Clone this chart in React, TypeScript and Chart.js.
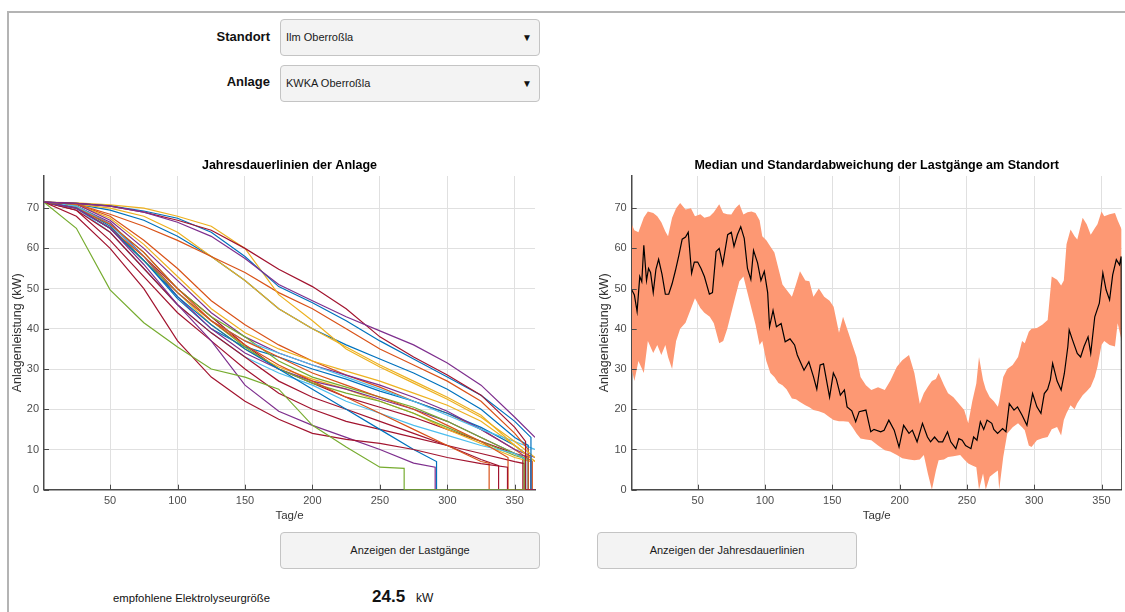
import React, { useEffect, useRef } from 'react';
import { Chart, registerables } from 'chart.js';

Chart.register(...registerables);

const FONT = '"Liberation Sans", Arial, Helvetica, sans-serif';
const GRID = '#e0e0e0';
const AXIS = '#4a4a4a';
const TICK = '#4d4d4d';

const X_TICKS = [50, 100, 150, 200, 250, 300, 350];
const Y_TICKS = [0, 10, 20, 30, 40, 50, 60, 70];

// ---------- left chart: annual load duration curves ----------
const DAYS = [1, 25, 50, 75, 100, 125, 150, 175, 200, 225, 250, 275, 300, 325, 350, 365];

const BLUE = '#0072BD';
const ORANGE = '#D95319';
const YELLOW = '#EDB120';
const PURPLE = '#7E2F8E';
const GREEN = '#77AC30';
const LBLUE = '#4DBEEE';
const RED = '#A2142F';

const LINE_COLORS = [
  PURPLE, RED, BLUE, YELLOW, ORANGE, YELLOW, BLUE, GREEN, RED, PURPLE, BLUE, ORANGE, RED,
  ORANGE, LBLUE, LBLUE, GREEN, GREEN, PURPLE, PURPLE, YELLOW, YELLOW, BLUE, RED, RED, ORANGE,
];

const LINES: number[][] = [
  [71.5, 71.2, 70.5, 69, 66.5, 63, 57.5, 51, 47, 43, 39.5, 36, 31.5, 26, 18, 13],
  [71.5, 71.2, 70.5, 69, 67, 64.5, 60, 54.8, 50.5, 45, 38, 33, 28.5, 23.5, 15.5],
  [71.5, 71.2, 70.6, 69.3, 67.5, 64, 58, 50.5, 46.5, 42, 37, 32.5, 28, 23.5, 17],
  [71.5, 71.3, 70.8, 70, 68, 65.5, 60, 48.5, 42, 35, 30.5, 26.5, 22.5, 18, 12, 8],
  [71.5, 71, 68.5, 65.5, 62, 58, 54, 49, 45, 40, 35, 31, 27, 22, 14],
  [71.5, 71, 70, 68, 64, 58, 52, 45, 40, 35.5, 31, 27, 23, 18.5, 11, 7],
  [71.5, 71, 69.5, 67, 63, 58, 52, 45, 40, 36, 32.5, 29, 25, 20, 13],
  [71.5, 65, 49.7, 41.5, 35.5, 30, 28, 25, 16, 10.6, 5.6],
  [71.5, 68, 60, 50, 37, 28, 22, 17.5, 14, 12.5, 11.5, 10, 8, 6.5],
  [71.5, 70, 65, 56, 46, 37, 26, 19.5, 16, 13, 10, 6.6],
  [71.5, 70, 65, 57, 48, 41, 35, 30, 25, 20, 15, 10],
  [71.5, 70, 66, 59, 50, 42, 36, 31, 27, 23, 19, 15, 11, 7],
  [71.5, 69.5, 64, 55, 46, 39, 33, 27, 23, 20, 17, 14, 11, 7.5],
  [71.5, 70, 65, 58, 49, 42, 37, 33, 29, 26, 23, 20, 16, 12],
  [71.5, 70.5, 66, 58, 49, 42, 37, 34, 31, 28, 25, 22, 18.5, 15, 12, 10],
  [71.5, 70, 64, 55, 46, 39, 33, 29, 26, 22, 19, 16, 13.5, 11, 9],
  [71.5, 70.5, 66, 59, 50, 43, 38, 32, 28, 25.5, 23, 20.5, 17, 13, 9],
  [71.5, 70, 65, 57, 49, 42, 35.5, 30, 26.5, 24, 22, 19, 15.5, 12, 8.5],
  [71.5, 71, 67, 60, 52, 44, 38, 34, 31, 28.5, 26, 23, 19.5, 15, 10, 8],
  [71.5, 70.5, 66.5, 58, 48, 40, 34, 30, 27, 25, 22.5, 20, 17, 13, 9],
  [71.5, 71, 67.5, 61, 53, 45, 39, 35, 32, 29.5, 27, 24, 21, 17, 11, 7],
  [71.5, 70.5, 65, 57, 49, 41, 35, 30.5, 27.5, 25, 22, 19, 15, 11.5, 8],
  [71.5, 70.5, 65.5, 57, 47.5, 40, 35.5, 33, 30, 27.5, 24.5, 22, 19, 15.5, 11],
  [71.5, 70.5, 66, 58, 50, 43, 36, 30, 26.5, 23, 20.5, 18, 15, 12, 9],
  [71.5, 69.5, 62, 53, 44, 37, 30, 24, 20, 17, 15, 13, 11, 9, 7],
  [71.5, 71, 68, 62, 55, 47, 41, 36, 32, 28.5, 25.5, 22, 19, 15, 10],
];

const DROP_DAYS: (number | null)[] = [
  null, 358, 362, null, 360, null, 360, 268, 344.6, 291, 292, 331, 338,
  345, null, 358, 357, 360, null, 362, null, 362, 358, 356, 357, 363,
];
const DROP_LEVELS: (number | null)[] = [
  null, 12, 13, null, 10, null, 11, 5.3, 5.6, 5.6, 7, 6.6, 6,
  8, null, 7.5, 8, 7.5, null, 8, null, 7, 9, 8, 6.5, 7,
];

// ---------- right chart: median and standard deviation ----------
const BAND_DAYS = [
  1, 3, 6, 10, 13, 17, 20, 23, 26, 28, 31, 34, 37, 41, 45, 48, 52, 55, 59, 62, 66, 69, 72, 75, 78, 81, 84, 87, 90, 93,
  96, 98, 101, 104, 107, 110, 113, 116, 120, 123, 126, 130, 133, 136, 140, 144, 148, 151, 155, 158, 162, 165, 168, 171,
  175, 179, 184, 189, 193, 198, 202, 207, 211, 215, 218, 221, 224, 227, 229, 233, 236, 240, 245, 248, 251, 254, 257,
  259, 262, 264, 267, 270, 273, 274, 277, 280, 284, 288, 291, 293, 296, 298, 302, 306, 310, 313, 317, 320, 322, 324,
  327, 330, 332, 336, 339, 342, 345, 347, 350, 352, 356, 360, 362, 365,
];
const BAND_UPPER = [
  66, 64.5, 64, 67.7, 69.2, 68.8, 68, 66.5, 64.2, 63, 67.6, 70, 71.3, 69.7, 70, 68, 68.5, 67.6, 68, 69, 71, 68.8, 68.5,
  68.4, 70, 71, 68.4, 69, 69.2, 68.8, 67, 63, 62, 60.5, 59, 55, 51, 49.7, 48, 51, 54.3, 52, 51.8, 48, 50, 48, 47, 45.5,
  39, 43, 39, 36, 33, 28, 26, 24.8, 25.5, 24.8, 27, 30.6, 32.2, 33.5, 29, 21.4, 24, 25.6, 27, 27.5, 29, 26, 24, 23, 21,
  19.8, 16.5, 22, 26.4, 33, 27.3, 25, 23, 22, 20.6, 22, 28, 30, 31, 33, 37, 36.4, 39.3, 40, 40.2, 41, 42.2, 53, 52.2,
  50.8, 52, 61, 64.7, 63, 62.2, 67.6, 66, 63.4, 65, 66, 69.2, 68, 68.5, 68.8, 67, 64.7,
];
const BAND_LOWER = [
  30, 27, 32, 29, 37, 34, 36, 33.5, 36, 33, 30, 37, 40, 41.5, 45, 47.6, 45.2, 44, 43, 41.4, 36.4, 37, 40, 44, 48, 51.8,
  53, 49, 45, 41, 36, 37, 32, 29, 28, 26.5, 26, 25, 22.7, 22.5, 21.8, 21, 20.5, 19.8, 19.5, 19, 18, 17.3, 17, 17, 16.9,
  15.5, 14, 12.7, 12.5, 12.3, 11, 9.8, 9.5, 8.6, 7.8, 7.5, 7.3, 7.5, 8.6, 4, 0, 4.8, 7.3, 7.5, 8.1, 8.3, 8.6, 7.5, 6.5,
  6, 5.6, 0, 4, 0, 3.2, 4, 4.8, 0, 8.1, 14, 15.5, 16.5, 15.5, 14.8, 11, 10.6, 12.3, 12.8, 13.1, 15, 15.6, 13.5, 17.3,
  19, 21, 20, 21.5, 23.5, 24.5, 25.6, 28, 30.6, 36, 37, 36, 35.6, 41.4, 37,
];

const MEDIAN_DAYS = [
  1, 3, 5, 7, 8.5, 10, 12, 13.5, 15, 17, 19, 21, 23.5, 26, 28.5, 31, 33.5, 36, 38.5, 41, 43, 45.5, 47.5, 50, 52.5, 55,
  58.7, 61, 63.7, 66, 68.6, 72.3, 75, 77, 79.5, 82, 84.6, 87, 89.5, 91.5, 94.5, 97, 99.5, 102, 103.4, 106, 108.5, 112,
  115, 118.6, 122, 124, 129, 132.6, 136, 138.5, 141, 143.5, 148, 150.8, 153, 156, 159, 161, 164.5, 167.4, 170, 175,
  178.6, 181, 186, 188.5, 192, 196, 199.6, 203, 207, 209.5, 213, 217, 220.7, 223, 226, 229, 232, 235.6, 238, 241.8,
  244, 246.5, 249, 253, 255, 257.5, 260, 262.5, 265, 268.5, 270, 272.8, 276.5, 279, 281.5, 285, 287.6, 291, 294.6,
  298.8, 302, 305, 307.5, 310, 312, 313.7, 317, 320, 322.4, 325, 326, 328.5, 332, 334.5, 337, 340, 342, 345, 348.4,
  351, 353.4, 356, 358.3, 361, 363.4, 364.6, 365,
];
const MEDIAN_KW = [
  49.7, 48.4, 44.3, 53, 51.7, 60.8, 52, 55, 54, 49, 54.8, 57.3, 53.6, 48.6, 48.6, 51.2, 54.5, 58.2, 62.3, 62.8, 64, 53.8,
  56.6, 56.6, 55, 53, 48.6, 49, 59.2, 60, 56, 63.4, 64, 60.5, 63.4, 65.4, 62.5, 55, 52.3, 59.5, 56.4, 52, 54.3, 49, 40.5,
  44.6, 40.5, 41.3, 36.8, 37.5, 36, 33.5, 29.7, 31.8, 28.1, 25, 31, 31.3, 23, 29, 27.5, 23.5, 24.8, 20.6, 19.6, 16.9,
  19.4, 19.8, 14.4, 15, 14.4, 14.8, 17.3, 14.8, 10.6, 16, 14, 14.8, 11.9, 16.5, 13.1, 11.9, 13.1, 11.9, 11.9, 14.4,
  11.9, 10.2, 12.7, 12.3, 11, 10.2, 13.1, 12.3, 16.9, 15, 17.3, 16.5, 15, 14, 15.2, 14.4, 21.4, 19.8, 20.6, 18.5, 16,
  23.9, 20.6, 19, 23.9, 25, 27.3, 31.4, 27, 24.8, 28.9, 35.6, 39.7, 37.2, 33.9, 33, 35.6, 38, 33.9, 43, 46.4, 53.9,
  49.7, 47.2, 53.4, 57.2, 55.9, 58, 0,
];

function makeScales(yWidth: number) {
  return {
    x: {
      type: 'linear',
      min: 1,
      max: 365,
      afterBuildTicks: (s: any) => {
        s.ticks = X_TICKS.map((v) => ({ value: v }));
      },
      afterFit: (s: any) => {
        s.height = 40.3;
      },
      grid: { color: GRID, lineWidth: 1, drawTicks: false },
      border: { display: true, color: AXIS, width: 1.5 },
      ticks: { padding: 5, color: TICK, font: { size: 11, family: FONT } },
      title: {
        display: true,
        text: 'Tag/e',
        color: '#333',
        font: { size: 11.5, family: FONT },
        padding: { top: 0, bottom: 7 },
      },
    },
    y: {
      type: 'linear',
      min: 0,
      max: 78,
      afterBuildTicks: (s: any) => {
        s.ticks = Y_TICKS.map((v) => ({ value: v }));
      },
      afterFit: (s: any) => {
        s.width = yWidth;
      },
      grid: { color: GRID, lineWidth: 1, drawTicks: false },
      border: { display: true, color: AXIS, width: 1.5 },
      ticks: { padding: 5, color: TICK, font: { size: 11, family: FONT } },
      title: {
        display: true,
        text: 'Anlagenleistung (kW)',
        color: '#333',
        font: { size: 12.5, family: FONT },
        padding: { top: 10.5, bottom: 0 },
      },
    },
  };
}

function decorPlugin(title: string) {
  return {
    id: 'decor',
    afterDraw(chart: any) {
      const { ctx, chartArea, scales } = chart;
      ctx.save();
      ctx.font = `bold 12.5px ${FONT}`;
      ctx.fillStyle = '#000';
      ctx.textAlign = 'center';
      ctx.textBaseline = 'middle';
      ctx.fillText(title, (chartArea.left + chartArea.right) / 2, 16);
      ctx.strokeStyle = AXIS;
      ctx.lineWidth = 1;
      ctx.beginPath();
      scales.x.ticks.forEach((t: any) => {
        const px = Math.round(scales.x.getPixelForValue(t.value)) + 0.5;
        ctx.moveTo(px, chartArea.bottom);
        ctx.lineTo(px, chartArea.bottom - 5);
      });
      scales.y.ticks.forEach((t: any) => {
        const py = Math.round(scales.y.getPixelForValue(t.value)) + 0.5;
        ctx.moveTo(chartArea.left, py);
        ctx.lineTo(chartArea.left + 5, py);
      });
      ctx.stroke();
      ctx.restore();
    },
  };
}

function baseOptions(yWidth: number, rightPad: number) {
  return {
    responsive: false,
    animation: false,
    layout: { padding: { top: 26, right: rightPad, bottom: 0, left: 0 } },
    plugins: { legend: { display: false }, tooltip: { enabled: false }, title: { display: false } },
    elements: { point: { radius: 0 }, line: { tension: 0 } },
    scales: makeScales(yWidth),
  };
}

function LeftChart() {
  const ref = useRef<HTMLCanvasElement | null>(null);
  useEffect(() => {
    if (!ref.current) return;
    const datasets = LINES.map((vals, i) => {
      const pts: { x: number; y: number }[] = vals.map((v, k) => ({ x: DAYS[k], y: v }));
      const d = DROP_DAYS[i];
      const lvl = DROP_LEVELS[i];
      if (d !== null && lvl !== null) {
        pts.push({ x: d, y: lvl }, { x: d, y: 0 }, { x: 365, y: 0 });
      }
      return {
        data: pts,
        borderColor: LINE_COLORS[i],
        borderWidth: 1.2,
        pointRadius: 0,
        fill: false,
        clip: 0,
      };
    });
    const chart = new Chart(ref.current, {
      type: 'line',
      data: { datasets } as any,
      options: baseOptions(44, 10) as any,
      plugins: [decorPlugin('Jahresdauerlinien der Anlage')],
    });
    return () => chart.destroy();
  }, []);
  return (
    <canvas
      ref={ref}
      width={545}
      height={380}
      style={{ position: 'absolute', left: 0, top: 150, width: 545, height: 380 }}
    />
  );
}

function RightChart() {
  const ref = useRef<HTMLCanvasElement | null>(null);
  useEffect(() => {
    if (!ref.current) return;
    const median = MEDIAN_DAYS.map((d, i) => ({ x: d, y: MEDIAN_KW[i] }));
    const upper = BAND_DAYS.map((d, i) => ({ x: d, y: BAND_UPPER[i] }));
    const lower = BAND_DAYS.map((d, i) => ({ x: d, y: BAND_LOWER[i] }));
    const chart = new Chart(ref.current, {
      type: 'line',
      data: {
        datasets: [
          { data: median, borderColor: '#000', borderWidth: 1.2, pointRadius: 0, fill: false, clip: 0 },
          {
            data: upper,
            borderColor: 'rgba(0,0,0,0)',
            borderWidth: 0,
            pointRadius: 0,
            backgroundColor: '#FD9873',
            fill: '+1',
            clip: 0,
          },
          { data: lower, borderColor: 'rgba(0,0,0,0)', borderWidth: 0, pointRadius: 0, fill: false, clip: 0 },
        ],
      } as any,
      options: baseOptions(44.7, 3.3) as any,
      plugins: [decorPlugin('Median und Standardabweichung der Lastgänge am Standort')],
    });
    return () => chart.destroy();
  }, []);
  return (
    <canvas
      ref={ref}
      width={538}
      height={380}
      style={{ position: 'absolute', left: 587, top: 150, width: 538, height: 380 }}
    />
  );
}

const boxStyle: React.CSSProperties = {
  position: 'absolute',
  boxSizing: 'border-box',
  border: '1px solid #c4c4c4',
  borderRadius: 4,
  background: '#f3f3f3',
  fontSize: 11,
  color: '#1a1a1a',
};

function Dropdown({ top, text }: { top: number; text: string }) {
  return (
    <div style={{ ...boxStyle, left: 280, top, width: 260, height: 37, lineHeight: '35px', paddingLeft: 5 }}>
      {text}
      <span style={{ position: 'absolute', right: 7, top: 0, fontSize: 10, color: '#111' }}>▼</span>
    </div>
  );
}

const labelStyle: React.CSSProperties = {
  position: 'absolute',
  left: 0,
  width: 270,
  height: 20,
  lineHeight: '20px',
  textAlign: 'right',
  fontWeight: 'bold',
  fontSize: 13,
  color: '#111',
};

export default function App() {
  return (
    <div
      style={{
        position: 'relative',
        width: 1125,
        height: 612,
        overflow: 'hidden',
        background: '#fff',
        fontFamily: FONT,
      }}
    >
      <style>{'body{margin:0}'}</style>
      <div
        style={{
          position: 'absolute',
          left: 7,
          top: 11,
          width: 1200,
          height: 700,
          borderTop: '2px solid #b4b4b4',
          borderLeft: '2px solid #b4b4b4',
        }}
      />
      <div style={{ ...labelStyle, top: 27 }}>Standort</div>
      <div style={{ ...labelStyle, top: 72 }}>Anlage</div>
      <Dropdown top={19} text="Ilm Oberroßla" />
      <Dropdown top={65} text="KWKA Oberroßla" />

      <LeftChart />
      <RightChart />

      <div style={{ ...boxStyle, left: 280, top: 532, width: 260, height: 37, lineHeight: '35px', textAlign: 'center' }}>
        Anzeigen der Lastgänge
      </div>
      <div style={{ ...boxStyle, left: 597, top: 532, width: 260, height: 37, lineHeight: '35px', textAlign: 'center' }}>
        Anzeigen der Jahresdauerlinien
      </div>

      <div
        style={{
          position: 'absolute',
          left: 113,
          top: 590,
          height: 16,
          lineHeight: '16px',
          fontSize: 11.3,
          color: '#111',
          whiteSpace: 'nowrap',
        }}
      >
        empfohlene Elektrolyseurgröße
      </div>
      <div
        style={{
          position: 'absolute',
          left: 372,
          top: 586,
          height: 22,
          lineHeight: '22px',
          fontSize: 17,
          fontWeight: 'bold',
          color: '#111',
        }}
      >
        24.5
      </div>
      <div
        style={{
          position: 'absolute',
          left: 416,
          top: 590,
          height: 16,
          lineHeight: '16px',
          fontSize: 12,
          color: '#111',
        }}
      >
        kW
      </div>
    </div>
  );
}
